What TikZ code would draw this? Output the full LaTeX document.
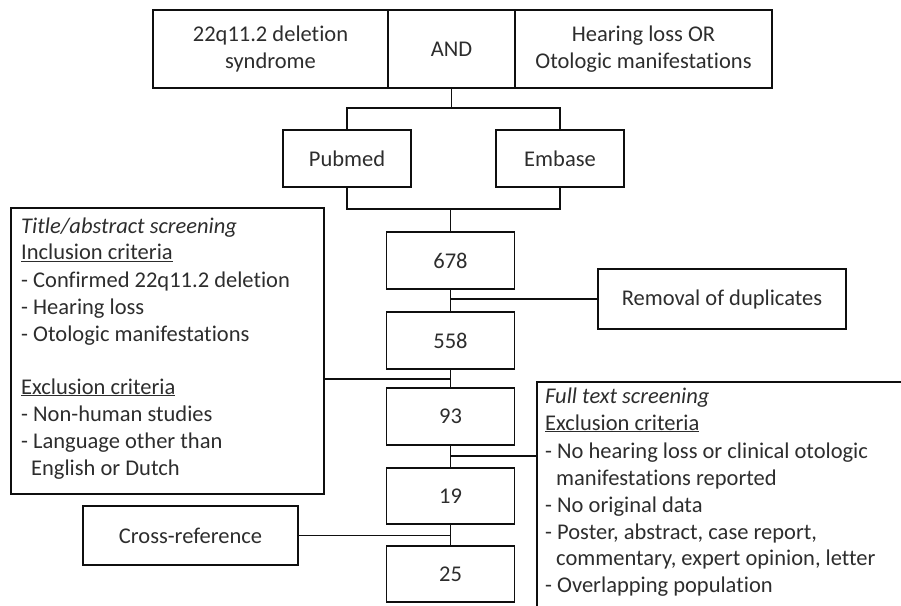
\documentclass[tikz,border=0pt]{standalone}
\usepackage{fontspec}
\setmainfont{Carlito}[Ligatures={NoCommon}]
\definecolor{txt}{RGB}{45,45,45}
\definecolor{ln}{RGB}{15,15,15}
\begin{document}
\begin{tikzpicture}[x=1pt,y=-1pt,
  box/.style={draw=ln,line width=1.6pt,rectangle,inner sep=0pt,text=txt,align=center,font=\fontsize{22.5}{26.8}\selectfont},
  lbl/.style={anchor=base west,inner sep=0pt,text=txt,font=\fontsize{22.5}{26.8}\selectfont},
  conn/.style={draw=ln,line width=1.6pt}]
\useasboundingbox (0,0) rectangle (901,605);
\clip (0,0) rectangle (901,605);
% top row
\node[box,minimum width=235pt,minimum height=78pt] (syn) at (270.5,49) {22q11.2 deletion\\syndrome};
\node[box,minimum width=127pt,minimum height=78pt] (and) at (451.5,49) {AND};
\node[box,minimum width=257pt,minimum height=78pt] (hl) at (643.5,49) {Hearing loss OR\\Otologic manifestations};
% databases
\node[box,minimum width=128pt,minimum height=57pt] (pub) at (347,158.5) {Pubmed};
\node[box,minimum width=128pt,minimum height=57pt] (emb) at (560,158.5) {Embase};
% numbers
\node[box,minimum width=128pt,minimum height=57pt] (n678) at (450.5,260.5) {678};
\node[box,minimum width=128pt,minimum height=57pt] (n558) at (450.5,340.5) {558};
\node[box,minimum width=128pt,minimum height=57pt] (n93) at (450.5,416.5) {93};
\node[box,minimum width=128pt,minimum height=56pt] (n19) at (450.5,496) {19};
\node[box,minimum width=128pt,minimum height=56pt] (n25) at (450.5,574) {25};
% side boxes
\node[box,minimum width=248pt,minimum height=60pt] (rem) at (722,299) {Removal of duplicates};
\node[box,minimum width=215pt,minimum height=59pt] (cross) at (190.5,535.5) {Cross-reference};
\node[box,minimum width=313pt,minimum height=286pt] (tabox) at (167.5,351) {};
\node[box,minimum width=420pt,minimum height=260pt,anchor=north west] (ftbox) at (536,381) {};
% title/abstract text
\node[lbl] (ta1) at (21,233) {\itshape Title/abstract screening};
\node[lbl] (ta2) at (21,259.5) {\underline{Inclusion criteria}};
\node[lbl] (ta3) at (21,287) {- Confirmed 22q11.2 deletion};
\node[lbl] (ta4) at (21,314) {- Hearing loss};
\node[lbl] (ta5) at (21,341) {- Otologic manifestations};
\node[lbl] (ta6) at (21,394) {\underline{Exclusion criteria}};
\node[lbl] (ta7) at (21,421.5) {- Non-human studies};
\node[lbl] (ta8) at (21,448) {- Language other than};
\node[lbl] (ta9) at (31,475) {English or Dutch};
% full text text
\node[lbl] (ft1) at (545,403) {\itshape Full text screening};
\node[lbl] (ft2) at (545,430) {\underline{Exclusion criteria}};
\node[lbl] (ft3) at (545,458) {- No hearing loss or clinical otologic};
\node[lbl] (ft4) at (556,485) {manifestations reported};
\node[lbl] (ft5) at (545,512) {- No original data};
\node[lbl] (ft6) at (545,539) {- Poster, abstract, case report,};
\node[lbl] (ft7) at (556,565.5) {commentary, expert opinion, letter};
\node[lbl] (ft8) at (545,592) {- Overlapping population};
% junctions
\coordinate (j1) at (451.5,108);
\coordinate (j2) at (450.5,209);
\coordinate (j3) at (450.5,379);
\coordinate (j4) at (450.5,456);
% connectors
\draw[conn] (and.south) -- (j1);
\draw[conn] (pub.north) |- (j1) -| (emb.north);
\draw[conn] (pub.south) |- (j2) -| (emb.south);
\draw[conn] (j2) -- (n678.north);
\draw[conn] (n678.south) -- (n558.north);
\draw[conn] (n558.south) -- (n93.north);
\draw[conn] (n93.south) -- (n19.north);
\draw[conn] (n19.south) -- (n25.north);
\draw[conn] (rem.west) -- (rem.west -| n678.south);
\draw[conn] (tabox.east |- j3) -- (j3);
\draw[conn] (j4) -- (ftbox.west |- j4);
\draw[conn] (cross.east) -- (cross.east -| n19.south);
\end{tikzpicture}
\end{document}
